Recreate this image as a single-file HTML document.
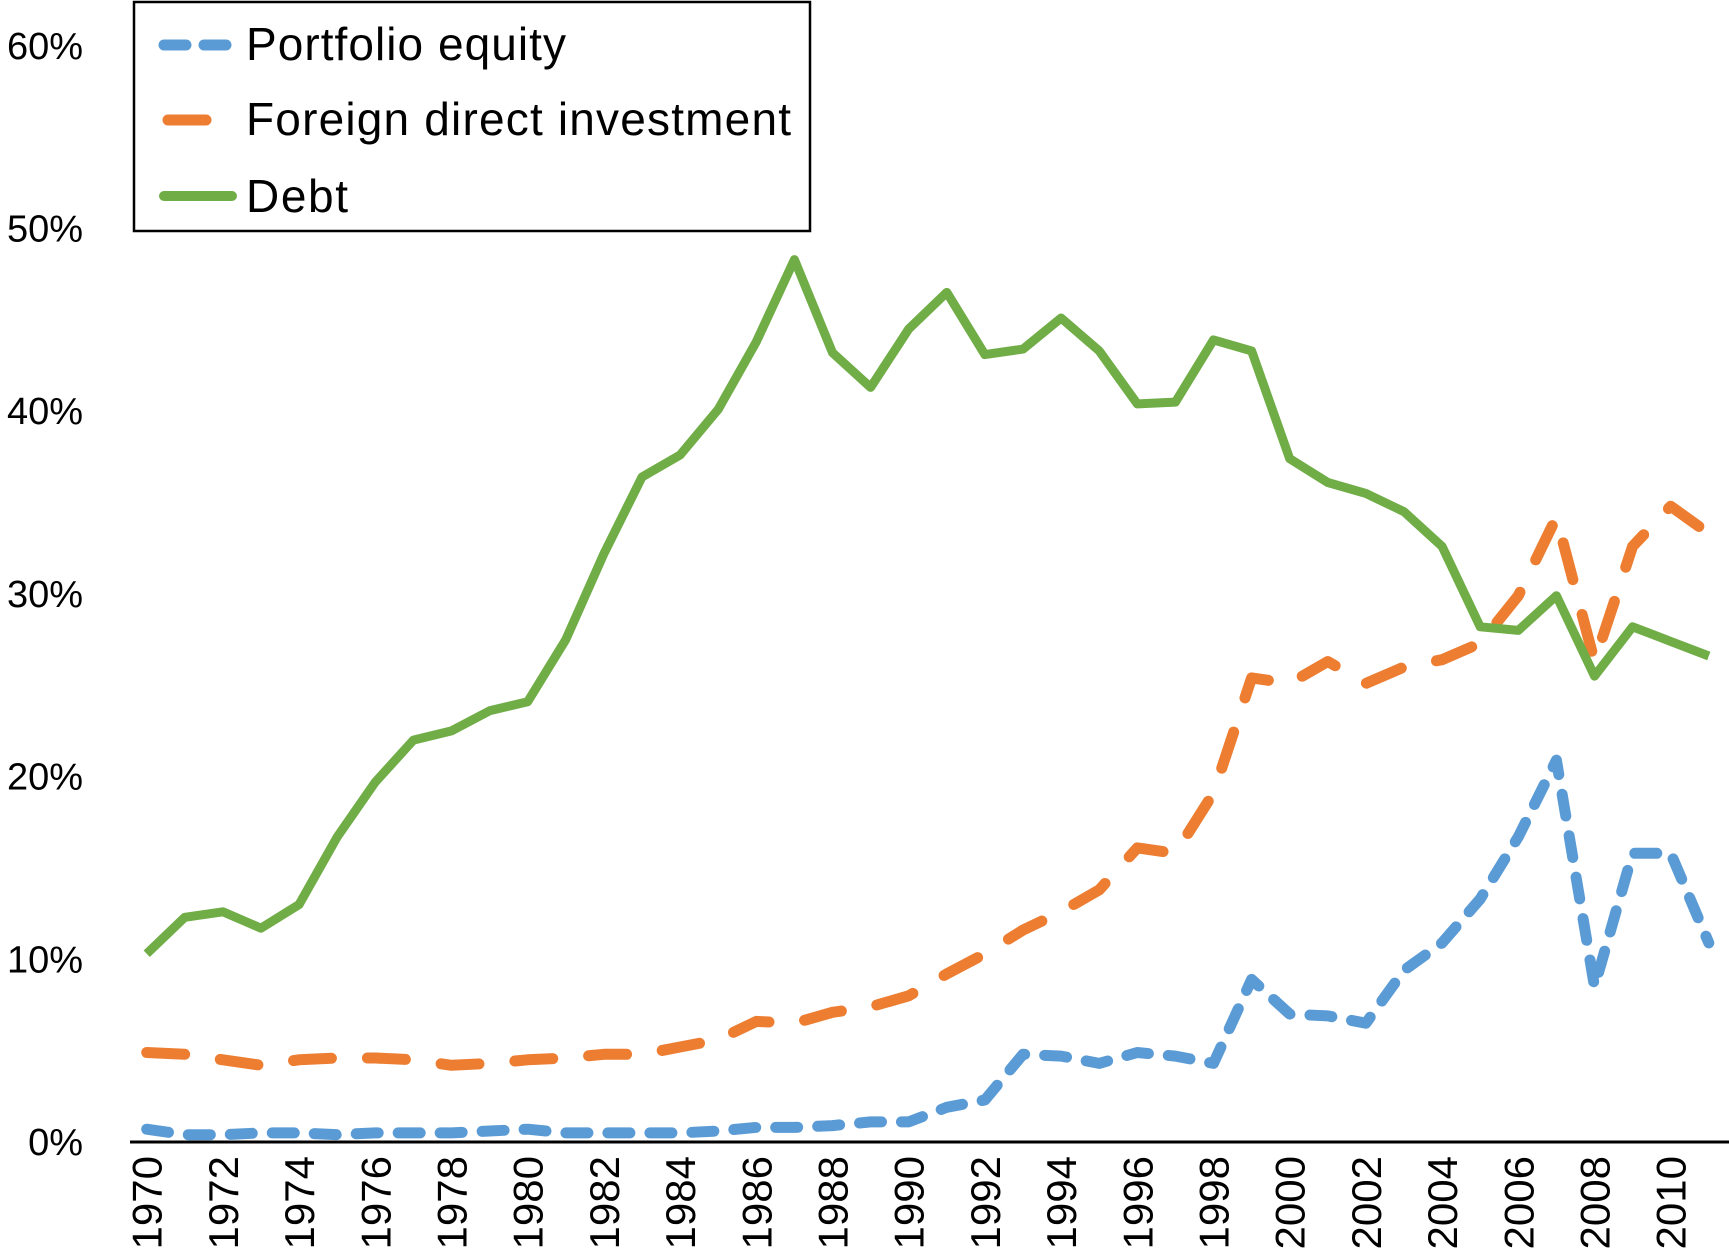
<!DOCTYPE html>
<html><head><meta charset="utf-8"><style>
html,body{margin:0;padding:0;background:#fff;}
svg{display:block;font-family:"Liberation Sans",Arial,sans-serif;}
</style></head><body>
<svg id="chart" width="1729" height="1256" viewBox="0 0 1729 1256">
<g id="yaxis"></g>
<g id="xaxis"></g>
<g id="series"></g>
<g>
  <rect x="134" y="2" width="676" height="229" fill="#fff" stroke="#000" stroke-width="2.5"/>
  <line x1="164" y1="45" x2="232" y2="45" stroke="#5b9bd5" stroke-width="11" stroke-linecap="round" stroke-dasharray="22 18"/>
  <text x="246" y="60" font-size="46" textLength="320">Portfolio equity</text>
  <line x1="168" y1="120" x2="206" y2="120" stroke="#ed7d31" stroke-width="11" stroke-linecap="round"/>
  <text x="246" y="135" font-size="46" textLength="545">Foreign direct investment</text>
  <line x1="164" y1="196" x2="232" y2="196" stroke="#70ad47" stroke-width="10" stroke-linecap="round"/>
  <text x="246" y="212" font-size="46" textLength="102">Debt</text>
</g>
</svg>
<script>
const years = [];
for (let y = 1970; y <= 2011; y++) years.push(y);
const debt = [10.3,12.3,12.6,11.7,13.0,16.7,19.7,22.0,22.5,23.6,24.1,27.5,32.2,36.4,37.6,40.1,43.8,48.3,43.2,41.3,44.5,46.5,43.1,43.4,45.1,43.3,40.4,40.5,43.9,43.3,37.4,36.1,35.5,34.5,32.6,28.2,28.0,29.9,25.5,28.2,27.4,26.6];
const fdi = [4.9,4.8,4.5,4.2,4.5,4.6,4.6,4.5,4.2,4.3,4.5,4.6,4.8,4.8,5.2,5.6,6.6,6.5,7.1,7.4,8.0,9.2,10.3,11.6,12.6,13.8,16.1,15.8,19.1,25.4,25.1,26.3,25.1,26.0,26.4,27.3,29.9,34.2,26.3,32.6,34.8,33.3];
const portfolio = [0.7,0.4,0.4,0.5,0.5,0.4,0.5,0.5,0.5,0.6,0.7,0.5,0.5,0.5,0.5,0.6,0.8,0.8,0.9,1.1,1.1,1.9,2.3,4.8,4.7,4.3,4.9,4.7,4.3,8.9,7.0,6.9,6.5,9.4,10.9,13.3,16.7,20.9,8.5,15.8,15.8,10.9];
const yTicks = [0,10,20,30,40,50,60];
const xTickYears = [1970,1972,1974,1976,1978,1980,1982,1984,1986,1988,1990,1992,1994,1996,1998,2000,2002,2004,2006,2008,2010];

const NS = "http://www.w3.org/2000/svg";
const X = yr => 146.7 + (yr - 1970) * 38.1;
const Y = v => 1142 - v * 18.27;
function mk(tag, attrs, parent){const e=document.createElementNS(NS,tag);for(const k in attrs)e.setAttribute(k,attrs[k]);parent.appendChild(e);return e;}

const yaxis = document.getElementById('yaxis');
yTicks.forEach(t=>{
  const tx = mk('text',{x:83,y:Y(t)+13,'font-size':38,'text-anchor':'end'},yaxis);
  
  
  tx.textContent = t + '%';
});
const xaxis = document.getElementById('xaxis');
const axl = mk('line',{x1:130,y1:1142,x2:1729,y2:1142,stroke:'#000','stroke-width':3},xaxis);


xTickYears.forEach(yr=>{
  const x = X(yr)+15;
  const tx = mk('text',{x:x,y:1156,'font-size':42,'text-anchor':'end',transform:`rotate(-90 ${x} 1156)`},xaxis);
  
  
  tx.textContent = yr;
});
const series = document.getElementById('series');
function pts(arr){return arr.map((v,i)=>X(years[i]).toFixed(1)+','+Y(v).toFixed(1)).join(' ');}
const p1 = mk('polyline',{points:pts(portfolio),fill:'none',stroke:'#5b9bd5','stroke-width':11,'stroke-linecap':'round','stroke-linejoin':'round','stroke-dasharray':'22 20'},series);


const p2 = mk('polyline',{points:pts(fdi),fill:'none',stroke:'#ed7d31','stroke-width':11,'stroke-linecap':'round','stroke-linejoin':'round','stroke-dasharray':'38 36'},series);


const p3 = mk('polyline',{points:pts(debt),fill:'none',stroke:'#70ad47','stroke-width':9,'stroke-linejoin':'round'},series);


</script>
</body></html>
